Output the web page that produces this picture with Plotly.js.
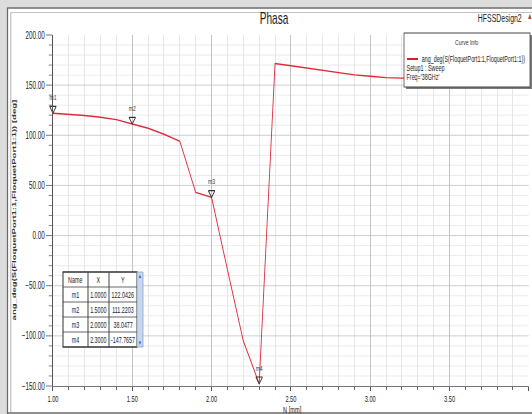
<!DOCTYPE html>
<html>
<head>
<meta charset="utf-8">
<script src="https://cdn.plot.ly/plotly-3.0.1.min.js"></script>
<style>
  html, body { margin: 0; padding: 0; overflow: hidden; width: 532px; height: 414px; background: #ffffff; }
  #chart { width: 844px; height: 414px; transform-origin: 0 0; }
</style>
</head>
<body>
<div id="chart"></div>
<script>
// ---------------- data ----------------
const nValues = [1.0, 1.1, 1.2, 1.3, 1.4, 1.5, 1.6, 1.7, 1.8, 1.9,
                 2.0, 2.1, 2.2, 2.3, 2.4, 2.5, 2.6, 2.7, 2.8, 2.9,
                 3.0, 3.1, 3.2, 3.3, 3.4, 3.5, 3.6, 3.7, 3.8, 3.9, 4.0];
const phaseValues = [122.04, 121.0, 119.7, 118.0, 115.6, 111.22, 107.0, 101.0, 94.0, 43.0,
                     38.05, -34.0, -105.0, -147.77, 171.5, 169.3, 167.0, 164.6, 162.2, 160.2,
                     158.8, 157.5, 157.0, 156.6, 156.3, 156.0, 155.8, 155.6, 155.4, 155.2, 155.0];
const markerNames = ['m1', 'm2', 'm3', 'm4'];
const markerN = [1.0, 1.5, 2.0, 2.3];
const markerPhase = [122.0426, 111.2203, 38.0477, -147.7657];
const tableHeader = ['Name', 'X', 'Y'];

const chartTitle = 'Phasa';
const designName = 'HFSSDesign2';
const yTitle = 'ang_deg(S(FloquetPort1:1,FloquetPort1:1)) [deg]';
const xTitle = 'N [mm]';
const curveName = 'ang_deg(S(FloquetPort1:1,FloquetPort1:1))';
const legendTitle = 'Curve Info';
const legendLines = ['Setup1 : Sweep', "Freq='38GHz'"];

// ---------------- geometry helpers ----------------
const W = 844, H = 414;
const S = 532 / W;                 // horizontal squeeze of the whole picture
const ML = 84, MR = 5, MT = 35, MB = 28;
const plotL = ML * S, plotW = (W - ML - MR) * S;
const plotH = H - MT - MB;
function px(x) { return (x - plotL) / plotW; }
function py(y) { return (H - MB - y) / plotH; }

document.getElementById('chart').style.transform = 'scaleX(' + S + ')';

const FONT = 'Arial, "Liberation Sans", sans-serif';
const shapes = [];
const ann = [];

function rect(x0, y0, x1, y1, fill, line, lw) {
  shapes.push({type: 'rect', xref: 'paper', yref: 'paper', x0: px(x0), x1: px(x1), y0: py(y1), y1: py(y0),
    fillcolor: fill || 'rgba(0,0,0,0)', line: {color: line || 'rgba(0,0,0,0)', width: lw || 0}, layer: 'above'});
}
function seg(x0, y0, x1, y1, color, lw) {
  shapes.push({type: 'line', xref: 'paper', yref: 'paper', x0: px(x0), x1: px(x1), y0: py(y0), y1: py(y1),
    line: {color: color, width: lw}, layer: 'above'});
}
function text(t, x, y, size, opts) {
  opts = opts || {};
  ann.push(Object.assign({text: t, xref: 'paper', yref: 'paper', x: px(x), y: py(y), showarrow: false,
    xanchor: 'center', yanchor: 'middle', font: {family: FONT, size: size, color: opts.color || '#222'},
    borderpad: 0}, opts.extra || {}));
}

// ---------------- window frame ----------------
rect(0, 0, 532, 7.5, '#dcdcdc');
rect(0, 0, 7, 414, '#dcdcdc');
seg(7, 8, 532, 8, '#6a6a6a', 1.5);
seg(7.5, 8, 7.5, 414, '#6a6a6a', 2);
seg(10.5, 12.5, 532, 12.5, '#b4b4b4', 1);
seg(10.8, 12.5, 10.8, 412, '#b4b4b4', 1.6);

// ---------------- titles ----------------
text(chartTitle, 274, 18, 16, {color: '#1a1a1a'});
text(designName, 500, 18, 11, {color: '#222'});
text('▲', 530, 16, 9, {color: '#a04848'});
text(yTitle, 13.5, 210, 9.5, {color: '#333', extra: {textangle: -90, font: {family: FONT, size: 9.5, color: '#333', weight: 'bold'}}});
text(xTitle, 292, 409.5, 9, {color: '#222', extra: {yanchor: 'middle'}});

// bottom frame line drawn after the axis title position is set
seg(7, 413, 532, 413, '#6a6a6a', 1.5);

// ---------------- legend box ----------------
rect(406, 35, 532, 89, '#7a7a7a');
rect(404, 33, 530, 87, '#ffffff', '#444', 1.2);
text(legendTitle, 467, 42, 8, {color: '#333'});
seg(407, 59, 418, 59, '#d42030', 2);
text(curveName, 421, 59, 8.5, {color: '#222', extra: {xanchor: 'left'}});
text(legendLines[0], 406, 68, 8.5, {color: '#222', extra: {xanchor: 'left'}});
text(legendLines[1], 406, 77, 8.5, {color: '#222', extra: {xanchor: 'left'}});

// ---------------- marker table ----------------
const tX = [63, 88, 109, 137];
const tY0 = 272, rowH = 15;
const nRows = markerNames.length + 1;
rect(tX[0], tY0, tX[3], tY0 + nRows * rowH, '#ffffff', '#333', 1.6);
rect(137, tY0, 143, tY0 + nRows * rowH, '#c6d7ee', '#8fa6c6', 1);
text('▲', 140, tY0 + 4, 6, {color: '#2a5cc8'});
text('▼', 140, tY0 + nRows * rowH - 4, 6, {color: '#2a5cc8'});
for (let i = 1; i < 3; i++) seg(tX[i], tY0, tX[i], tY0 + nRows * rowH, '#444', 1.6);
for (let r = 1; r < nRows; r++) seg(tX[0], tY0 + r * rowH, tX[3], tY0 + r * rowH, '#444', 1);
const colC = [(tX[0] + tX[1]) / 2, (tX[1] + tX[2]) / 2, (tX[2] + tX[3]) / 2];
tableHeader.forEach((h, c) => text(h, colC[c], tY0 + rowH / 2, 8.5, {color: '#222'}));
markerNames.forEach((nm, r) => {
  const yc = tY0 + (r + 1.5) * rowH;
  text(nm, colC[0], yc, 8.5, {color: '#222'});
  text(markerN[r].toFixed(4), colC[1], yc, 8.5, {color: '#222'});
  text(markerPhase[r].toFixed(4), colC[2], yc, 8.5, {color: '#222'});
});

// ---------------- traces ----------------
const yRange = [-150, 200];
const tipShift = 4.5 * (yRange[1] - yRange[0]) / plotH;   // marker tip sits on the point

const curve = {
  type: 'scatter', mode: 'lines', x: nValues, y: phaseValues, name: curveName,
  line: {color: '#e02a3a', width: 1.4}, hoverinfo: 'skip', showlegend: false
};
const markers = {
  type: 'scatter', mode: 'markers+text', x: markerN, y: markerPhase, yaxis: 'y2',
  text: markerNames, textposition: 'top center',
  textfont: {family: FONT, size: 8, color: '#333'},
  marker: {symbol: 'triangle-down-open', size: 9, color: '#333', line: {width: 1.2, color: '#333'}},
  cliponaxis: false, showlegend: false, hoverinfo: 'skip'
};

const layout = {
  width: W, height: H,
  margin: {l: ML, r: MR, t: MT, b: MB, pad: 0},
  paper_bgcolor: '#ffffff', plot_bgcolor: '#ffffff',
  showlegend: false,
  font: {family: FONT, color: '#222'},
  xaxis: {
    range: [1, 4], tick0: 1, dtick: 0.5, tickformat: '.2f',
    showgrid: true, gridcolor: '#c4c4c4', gridwidth: 1.6,
    showline: true, linecolor: '#555', linewidth: 1,
    ticks: 'outside', ticklen: 4, tickwidth: 1.6, tickcolor: '#555',
    tickfont: {family: FONT, size: 9, color: '#222'},
    minor: {dtick: 0.1, showgrid: true, gridcolor: '#e6e6e6', gridwidth: 1.6, ticks: 'outside', ticklen: 2.5, tickcolor: '#666', tickwidth: 1.6},
    zeroline: false, fixedrange: true
  },
  yaxis: {
    range: yRange, tick0: 0, dtick: 50, tickformat: '.2f',
    showgrid: true, gridcolor: '#c4c4c4', gridwidth: 1,
    showline: true, linecolor: '#555', linewidth: 1.6,
    ticks: 'outside', ticklen: 9.5, tickwidth: 1, tickcolor: '#555',
    tickfont: {family: FONT, size: 10, color: '#222'},
    minor: {dtick: 10, showgrid: true, gridcolor: '#e6e6e6', gridwidth: 1, ticks: 'outside', ticklen: 5, tickcolor: '#666', tickwidth: 1},
    zeroline: false, fixedrange: true
  },
  yaxis2: {
    overlaying: 'y', range: [yRange[0] - tipShift, yRange[1] - tipShift], visible: false, fixedrange: true
  },
  shapes: shapes,
  annotations: ann
};

Plotly.newPlot('chart', [curve, markers], layout, {staticPlot: true, displayModeBar: false});
</script>
</body>
</html>
